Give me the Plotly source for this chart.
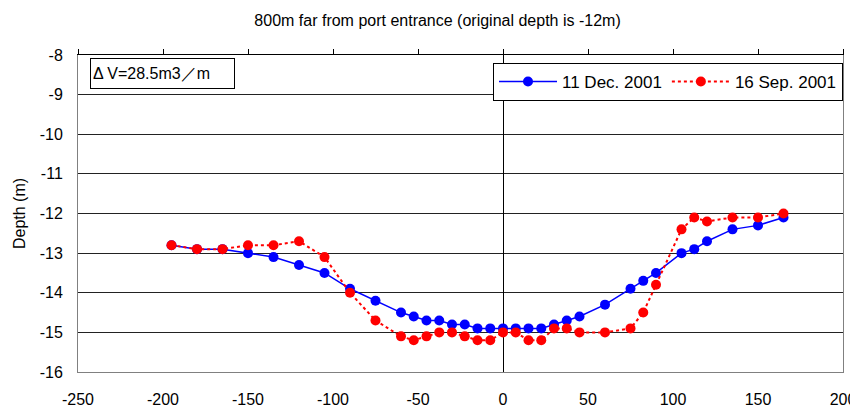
import plotly.graph_objects as go

distance = [-195, -180, -165, -150, -135, -120, -105, -90, -75, -60, -52.5, -45, -37.5,
            -30, -22.5, -15, -7.5, 0, 7.5, 15, 22.5, 30, 37.5, 45, 60, 75, 82.5, 90,
            105, 112.5, 120, 135, 150, 165]
depth_dec2001 = [-12.8, -12.9, -12.9, -13.0, -13.1, -13.3, -13.5, -13.9, -14.2, -14.5, -14.6,
                 -14.7, -14.7, -14.8, -14.8, -14.9, -14.9, -14.9, -14.9, -14.9, -14.9, -14.8,
                 -14.7, -14.6, -14.3, -13.9, -13.7, -13.5, -13.0, -12.9, -12.7, -12.4, -12.3, -12.1]
depth_sep2001 = [-12.8, -12.9, -12.9, -12.8, -12.8, -12.7, -13.1, -14.0, -14.7, -15.1, -15.2,
                 -15.1, -15.0, -15.0, -15.1, -15.2, -15.2, -15.0, -15.0, -15.2, -15.2, -14.9,
                 -14.9, -15.0, -15.0, -14.9, -14.5, -13.8, -12.4, -12.1, -12.2, -12.1, -12.1, -12.0]
x_ticks = [-250, -200, -150, -100, -50, 0, 50, 100, 150, 200]
x_tick_labels = ["-250", "-200", "-150", "-100", "-50", "0", "50", "100", "150", "200"]
y_ticks = [-16, -15, -14, -13, -12, -11, -10, -9, -8]
y_tick_labels = ["-16", "-15", "-14", "-13", "-12", "-11", "-10", "-9", "-8"]
name_dec = "11 Dec. 2001"
name_sep = "16 Sep. 2001"
title_text = "800m far from port entrance (original depth is -12m)"
y_title = "Depth (m)"
note_text = "Δ V=28.5m3／m"

FONT = "Arial, Liberation Sans, sans-serif"

# the page has an 8px body margin, so the figure is 8px smaller and offset
W, H = 850, 399

fig = go.Figure()
fig.add_trace(go.Scatter(
    x=distance, y=depth_dec2001, name=name_dec, mode="lines+markers",
    line=dict(color="#0000FF", width=1.5),
    marker=dict(color="#0000FF", size=10, symbol="circle"),
))
fig.add_trace(go.Scatter(
    x=distance, y=depth_sep2001, name=name_sep, mode="lines+markers",
    line=dict(color="#FF0000", width=2, dash="dot"),
    marker=dict(color="#FF0000", size=10, symbol="circle"),
))
# invisible trace to drive the top axis (ticks above the plot)
fig.add_trace(go.Scatter(x=distance, y=depth_dec2001, xaxis="x2", showlegend=False,
                         mode="markers", marker=dict(opacity=0), hoverinfo="skip"))

fig.update_layout(
    width=W, height=H,
    margin=dict(l=70, r=15, t=47, b=35, autoexpand=False),
    paper_bgcolor="white", plot_bgcolor="white",
    font=dict(family=FONT, size=16, color="black"),
    title=dict(text=title_text, x=0.47, xref="paper", xanchor="center",
               y=1 - 12 / H, yref="container", yanchor="middle", automargin=False,
               font=dict(size=16, family=FONT, color="black")),
    showlegend=True,
    legend=dict(orientation="h", x=1.0, xanchor="right", y=0.975, yanchor="top",
                bordercolor="black", borderwidth=1, bgcolor="white",
                font=dict(size=17, family=FONT), itemwidth=58, tracegroupgap=0),
    xaxis=dict(range=[-250, 200], tickvals=x_ticks, ticktext=x_tick_labels, showgrid=False,
               zeroline=True, zerolinecolor="black", zerolinewidth=1,
               showline=True, linecolor="#808080", linewidth=1, mirror=False,
               ticks="", ticklabelstandoff=13, automargin=False,
               tickfont=dict(size=16, family=FONT)),
    xaxis2=dict(range=[-250, 200], tickvals=x_ticks, overlaying="x", side="top",
                showgrid=False, zeroline=False, showticklabels=False, automargin=False,
                showline=True, linecolor="black", linewidth=1,
                ticks="outside", ticklen=5, tickcolor="black"),
    yaxis=dict(range=[-16, -8], tickvals=y_ticks, ticktext=y_tick_labels, showgrid=True,
               gridcolor="#222222", gridwidth=1, zeroline=False,
               showline=True, linecolor="#808080", linewidth=1, mirror=True,
               ticks="", ticklabelstandoff=11, automargin=False,
               tickfont=dict(size=16, family=FONT),
               title=dict(text=y_title, font=dict(size=16, family=FONT), standoff=10)),
    annotations=[dict(
        text=note_text, xref="paper", yref="paper", x=(90 - 78) / 765, y=(372 - 58) / 317,
        xanchor="left", yanchor="top", showarrow=False, align="left",
        font=dict(size=16, family=FONT, color="black"),
        bordercolor="black", borderwidth=1, bgcolor="white",
        width=139, height=25, borderpad=2,
    )],
)

fig.write_html("out.html")
